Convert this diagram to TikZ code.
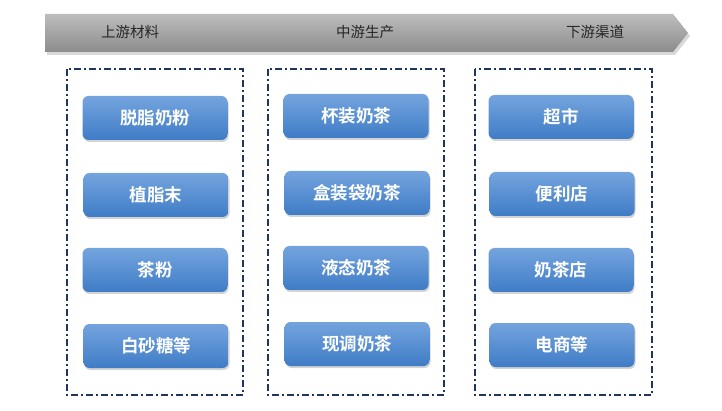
\documentclass[tikz,border=0pt]{standalone}
\usepackage{fontspec}
\newfontfamily\cjk{Noto Sans CJK SC}
\newfontfamily\cjkb{Noto Sans CJK SC Bold}
\usetikzlibrary{shadows,shapes.arrows}
\definecolor{navy}{HTML}{1F3560}
\definecolor{btop}{HTML}{74A4DE}
\definecolor{bbot}{HTML}{3F7CC6}
\definecolor{gtop}{HTML}{BDBDBD}
\definecolor{gbot}{HTML}{8C8C8C}
\tikzset{
  btn/.style={rounded corners=6pt, minimum width=145pt, minimum height=44pt,
    top color=btop, bottom color=bbot, draw=none,
    drop shadow={shadow xshift=1pt, shadow yshift=-2pt, opacity=0.35},
    text=white, font=\cjkb\fontsize{17.5}{20}\selectfont},
  grp/.style={draw=navy, line width=1.6pt, dash pattern=on 7pt off 3pt on 2pt off 3pt},
  hdr/.style={font=\cjk\fontsize{14.5}{17}\selectfont, text=black!85}
}
\begin{document}
\begin{tikzpicture}[x=1pt,y=-1pt]
\useasboundingbox (0,0) rectangle (722,411);
% banner
\fill[black!30, opacity=0.5] (47,17) -- (675,17) -- (690,36) -- (675,55) -- (47,55) -- cycle;
\shade[top color=gtop, bottom color=gbot] (45,14) -- (673,14) -- (688,33) -- (673,52) -- (45,52) -- cycle;
\node[hdr] (h1) at (130,32) {上游材料};
\node[hdr] (h2) at (365,32) {中游生产};
\node[hdr] (h3) at (595,32) {下游渠道};
% groups
\draw[grp] (67,69) rectangle (243,395);
\draw[grp] (268,69) rectangle (444,395);
\draw[grp] (475,69) rectangle (652,395);
% column 1
\node[btn] (a1) at (155,118) {脱脂奶粉};
\node[btn] (a2) at (156,195) {植脂末};
\node[btn] (a3) at (155,270) {茶粉};
\node[btn] (a4) at (156,346) {白砂糖等};
% column 2
\node[btn] (b1) at (356,116) {杯装奶茶};
\node[btn] (b2) at (357,193) {盒装袋奶茶};
\node[btn] (b3) at (356,268) {液态奶茶};
\node[btn] (b4) at (357,344) {现调奶茶};
% column 3
\node[btn] (c1) at (561,117) {超市};
\node[btn] (c2) at (562,194) {便利店};
\node[btn] (c3) at (561,270) {奶茶店};
\node[btn] (c4) at (562,345) {电商等};
\end{tikzpicture}
\end{document}
